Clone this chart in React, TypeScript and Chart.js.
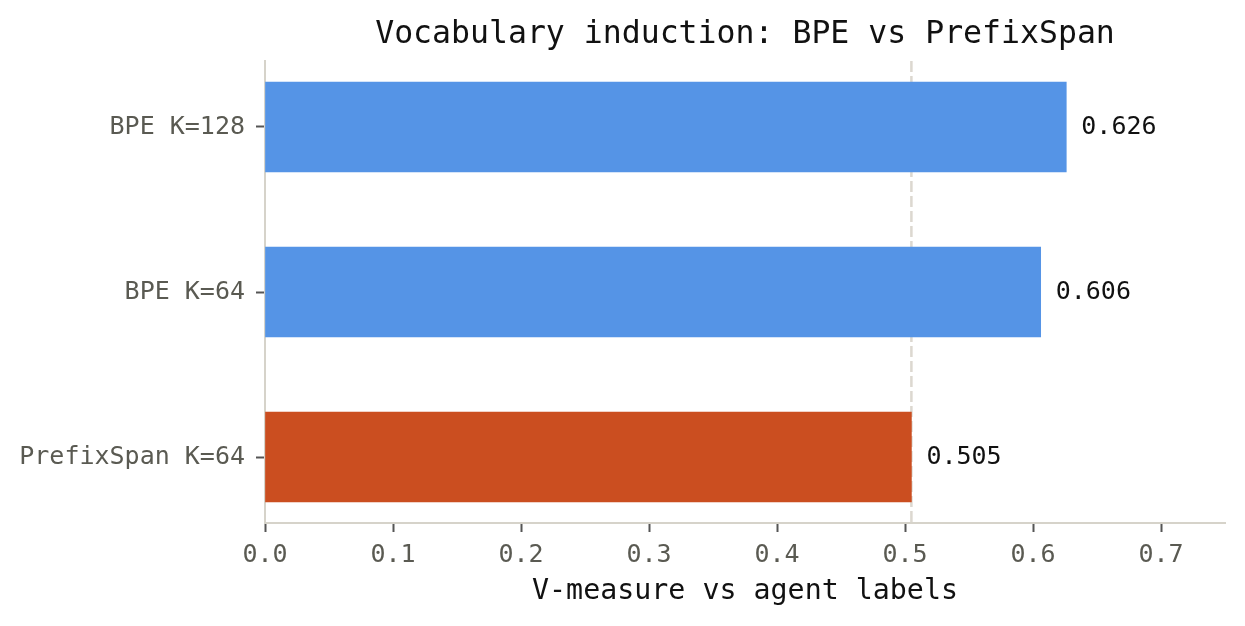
import React, { useEffect, useRef } from "react";
import { Chart, registerables } from "chart.js";

Chart.register(...registerables);

const categories = ["BPE K=128", "BPE K=64", "PrefixSpan K=64"];
const values = [0.626, 0.606, 0.505];
const barColors = ["#5594E6", "#5594E6", "#CB4E20"];
const xTicks = [0, 0.1, 0.2, 0.3, 0.4, 0.5, 0.6, 0.7];
const referenceValue = 0.505;
const titleText = "Vocabulary induction: BPE vs PrefixSpan";
const xLabelText = "V-measure vs agent labels";

const FONT = "'DejaVu Sans Mono', monospace";

export default function App() {
  const ref = useRef<HTMLCanvasElement | null>(null);

  useEffect(() => {
    document.body.style.margin = "0";
    const canvas = ref.current;
    if (!canvas) return;
    const n = categories.length;

    const overlay = {
      id: "overlay",
      beforeDatasetsDraw(chart: any) {
        const { ctx, chartArea, scales } = chart;
        const x = scales.x.getPixelForValue(referenceValue);
        ctx.save();
        ctx.strokeStyle = "#DCD8D0";
        ctx.lineWidth = 2.5;
        ctx.setLineDash([11, 4]);
        ctx.beginPath();
        ctx.moveTo(x, chartArea.top);
        ctx.lineTo(x, chartArea.bottom);
        ctx.stroke();
        ctx.restore();
      },
      afterDatasetsDraw(chart: any) {
        const { ctx, chartArea, scales } = chart;
        ctx.save();
        ctx.fillStyle = "#111111";
        ctx.font = `25px ${FONT}`;
        ctx.textAlign = "left";
        ctx.textBaseline = "middle";
        values.forEach((v, i) => {
          const x = scales.x.getPixelForValue(v) + 15;
          const y = scales.y.getPixelForValue(n - 1 - i);
          ctx.fillText(v.toFixed(3), x, y);
        });
        const cx = (chartArea.left + chartArea.right) / 2;
        ctx.font = `31.5px ${FONT}`;
        ctx.textAlign = "center";
        ctx.fillText(titleText, cx, 35);
        ctx.font = `28.3px ${FONT}`;
        ctx.fillText(xLabelText, cx, 592);
        ctx.restore();
      },
    };

    const chart = new Chart(canvas, {
      type: "bar",
      data: {
        datasets: [
          {
            data: values.map((v, i) => ({ x: v, y: n - 1 - i })),
            backgroundColor: barColors,
            borderWidth: 0,
            barThickness: 90,
          },
        ],
      },
      options: {
        indexAxis: "y",
        responsive: false,
        animation: false,
        devicePixelRatio: 1,
        layout: { padding: { left: 0, right: 20, top: 61, bottom: 0 } },
        plugins: { legend: { display: false }, tooltip: { enabled: false } },
        scales: {
          x: {
            type: "linear",
            min: 0,
            max: 0.75,
            offset: false,
            afterFit(scale: any) {
              scale.height = 103;
            },
            afterBuildTicks(scale: any) {
              scale.ticks = xTicks.map((v) => ({ value: v }));
            },
            ticks: {
              color: "#5A5A52",
              font: { family: FONT, size: 25 },
              padding: 8,
              callback: (v: any) => Number(v).toFixed(1),
            },
            grid: {
              display: true,
              offset: false,
              drawOnChartArea: false,
              tickLength: 9,
              tickColor: "#555555",
              tickWidth: 2,
            },
            border: { color: "#D6D3CA", width: 2 },
          },
          y: {
            type: "linear",
            min: -0.4,
            max: 2.4,
            offset: false,
            afterFit(scale: any) {
              scale.width = 265;
            },
            afterBuildTicks(scale: any) {
              scale.ticks = categories.map((_, i) => ({ value: i }));
            },
            ticks: {
              color: "#5A5A52",
              font: { family: FONT, size: 25 },
              padding: 11,
              callback: (v: any) => categories[n - 1 - Number(v)],
            },
            grid: {
              display: true,
              offset: false,
              drawOnChartArea: false,
              tickLength: 9,
              tickColor: "#555555",
              tickWidth: 2,
            },
            border: { color: "#D6D3CA", width: 2 },
          },
        },
      },
      plugins: [overlay],
    } as any);

    return () => chart.destroy();
  }, []);

  return (
    <div style={{ width: 1245, height: 626 }}>
      <canvas ref={ref} width={1245} height={626} />
    </div>
  );
}
